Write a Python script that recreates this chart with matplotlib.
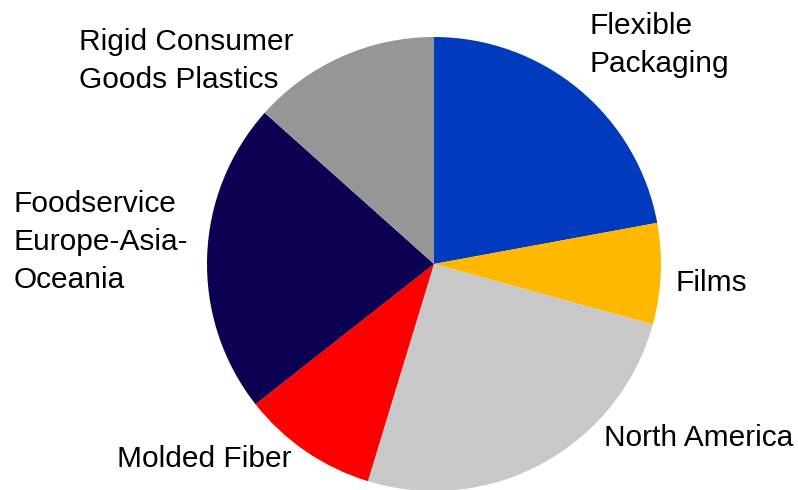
import matplotlib
matplotlib.use("Agg")
import matplotlib.pyplot as plt

categories = [
    "Flexible\nPackaging",
    "Films",
    "North America",
    "Molded Fiber",
    "Foodservice\nEurope-Asia-\nOceania",
    "Rigid Consumer\nGoods Plastics",
]
shares = [22.1, 7.2, 25.4, 9.7, 22.2, 13.4]
colors = ["#003ABE", "#FFB800", "#C8C8C8", "#FF0000", "#0B0052", "#969696"]

# label anchor points (left edge, last-line baseline) in figure pixels
label_x = [589, 676, 604, 117, 14, 79]
label_y = [72, 291, 446, 467, 288, 88]

W, H = 798, 490
fig = plt.figure(figsize=(W / 100, H / 100), dpi=100)
ax = fig.add_axes([0, 0, 1, 1])

ax.pie(shares, colors=colors, startangle=90, counterclock=False,
       center=(434, H - 264), radius=227,
       wedgeprops=dict(linewidth=0), frame=True)
ax.set_xlim(0, W)
ax.set_ylim(0, H)
ax.set_aspect("equal")
ax.axis("off")

for name, x, y in zip(categories, label_x, label_y):
    ax.text(x, H - y, name, ha="left", va="baseline", fontsize=21.5,
            family="Liberation Sans", color="black", linespacing=1.45)

fig.savefig("out.png", dpi=100, facecolor="white")
